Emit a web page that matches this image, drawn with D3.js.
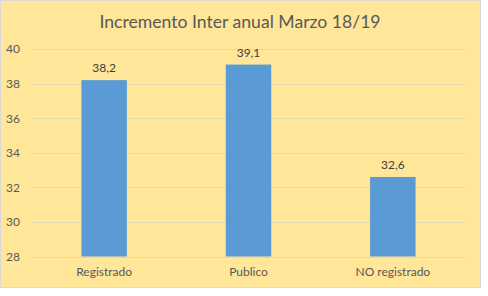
<!DOCTYPE html>
<html>
<head>
<meta charset="utf-8">
<script src="https://cdn.jsdelivr.net/npm/d3@7"></script>
<style>
  body { margin: 0; background: #fff; }
  text { font-family: Lato, "Open Sans", sans-serif; }
</style>
</head>
<body>
<script>
var categories = ["Registrado", "Publico", "NO registrado"];
var values = [38.2, 39.1, 32.6];
var yTicks = [28, 30, 32, 34, 36, 38, 40];
var title = "Incremento Inter anual Marzo 18/19";

var width = 488, height = 296;
var boxW = 480, boxH = 287;
var margin = {top: 49, right: 23, bottom: 30, left: 32};
var plotW = 465 - margin.left,
    plotH = 256.5 - margin.top;

var svg = d3.select("body").append("svg")
    .attr("width", width)
    .attr("height", height);

svg.append("rect")
    .attr("x", 0.5).attr("y", 0.5)
    .attr("width", boxW).attr("height", boxH)
    .attr("fill", "#FFE699")
    .attr("stroke", "#D9D9D9");

svg.append("text")
    .attr("x", 240).attr("y", 28)
    .attr("text-anchor", "middle")
    .attr("font-size", "17.6px")
    .attr("fill", "#595959")
    .text(title);

var g = svg.append("g")
    .attr("transform", "translate(" + margin.left + "," + margin.top + ")");

var x = d3.scaleBand().domain(categories).range([0, plotW]);
var y = d3.scaleLinear().domain([28, 40]).range([plotH, 0]);

// gridlines
g.selectAll(".grid")
    .data(yTicks)
    .enter().append("line")
    .attr("x1", 0).attr("x2", plotW)
    .attr("y1", function(d){ return Math.round(y(d)) + 0.5; })
    .attr("y2", function(d){ return Math.round(y(d)) + 0.5; })
    .attr("stroke", "#E3D9AF")
    .attr("stroke-width", 1);

var yAxis = d3.axisLeft(y).tickValues(yTicks).tickSize(0).tickPadding(12);
g.append("g").call(yAxis)
    .call(function(s){ s.select(".domain").remove(); })
    .selectAll("text")
    .attr("font-size", "12px")
    .attr("fill", "#595959")
    .style("font-family", "Lato, sans-serif");

var barW = x.bandwidth() * 0.315;

g.selectAll(".bar")
    .data(values)
    .enter().append("rect")
    .attr("x", function(d, i){ return x(categories[i]) + x.bandwidth() / 2 - barW / 2; })
    .attr("y", function(d){ return y(d); })
    .attr("width", barW)
    .attr("height", function(d){ return plotH - y(d); })
    .attr("fill", "#5B9BD5");

g.selectAll(".lbl")
    .data(values)
    .enter().append("text")
    .attr("x", function(d, i){ return x(categories[i]) + x.bandwidth() / 2; })
    .attr("y", function(d){ return y(d) - 8; })
    .attr("text-anchor", "middle")
    .attr("font-size", "12px")
    .attr("fill", "#404040")
    .text(function(d){ return String(d).replace(".", ","); });

var xAxis = d3.axisBottom(x).tickSize(0).tickPadding(11);
g.append("g")
    .attr("transform", "translate(0," + plotH + ")")
    .call(xAxis)
    .call(function(s){ s.select(".domain").remove(); })
    .selectAll("text")
    .attr("font-size", "12px")
    .attr("fill", "#595959")
    .style("font-family", "Lato, sans-serif");
</script>
</body>
</html>
